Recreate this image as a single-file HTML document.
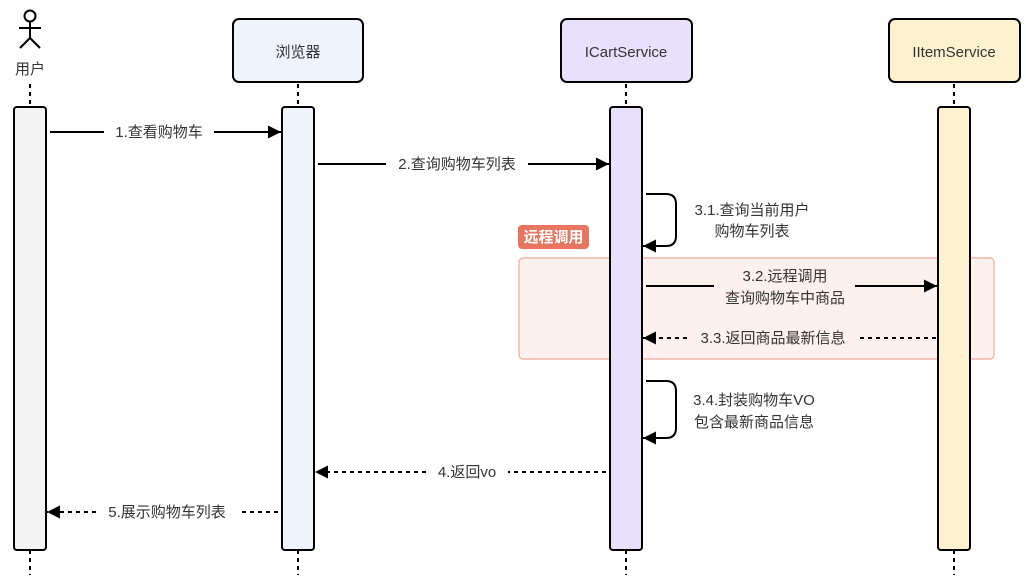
<!DOCTYPE html>
<html><head><meta charset="utf-8"><style>
html,body{margin:0;padding:0;background:#fff;width:1026px;height:580px;overflow:hidden}
text{font-family:"Liberation Sans","Noto Sans CJK SC",sans-serif;font-size:15px;fill:#333}
</style></head><body>
<svg width="1026" height="580" viewBox="0 0 1026 580" xmlns="http://www.w3.org/2000/svg">
<defs>
<marker id="a" viewBox="0 0 10 10" refX="10" refY="5" markerWidth="13" markerHeight="13" markerUnits="userSpaceOnUse" orient="auto"><path d="M0,0 L10,5 L0,10 z" fill="#000"/></marker>
</defs>
<rect x="519" y="258" width="475" height="101" rx="4" fill="#fdf1ee" stroke="#f2a898" stroke-width="1.2"/>
<rect x="518" y="225" width="71" height="24" rx="4" fill="#e8765e"/>
<text x="553.5" y="242" text-anchor="middle" style="fill:#fff;font-weight:bold;font-size:15px">远程调用</text>
<g stroke="#000" stroke-width="2" stroke-dasharray="4,4">
<line x1="30" y1="84" x2="30" y2="107"/><line x1="30" y1="550" x2="30" y2="575"/>
<line x1="298" y1="84" x2="298" y2="107"/><line x1="298" y1="550" x2="298" y2="575"/>
<line x1="626" y1="84" x2="626" y2="107"/><line x1="626" y1="550" x2="626" y2="575"/>
<line x1="954" y1="84" x2="954" y2="107"/><line x1="954" y1="550" x2="954" y2="575"/>
</g>
<g stroke="#000" stroke-width="2" fill="none">
<circle cx="30" cy="16" r="5.5"/>
<line x1="30" y1="22" x2="30" y2="38"/>
<line x1="19" y1="28" x2="41" y2="28"/>
<line x1="30" y1="38" x2="20" y2="48"/><line x1="30" y1="38" x2="40" y2="48"/>
</g>
<text x="30" y="74" text-anchor="middle">用户</text>
<rect x="233" y="19" width="130" height="63" rx="6" fill="#eef3fc" stroke="#000" stroke-width="2"/>
<text x="298" y="57" text-anchor="middle">浏览器</text>
<rect x="561" y="19" width="131" height="63" rx="6" fill="#e8e0fd" stroke="#000" stroke-width="2"/>
<text x="626" y="57" text-anchor="middle">ICartService</text>
<rect x="889" y="19" width="131" height="63" rx="6" fill="#fdf1cf" stroke="#000" stroke-width="2"/>
<text x="954" y="57" text-anchor="middle">IItemService</text>
<rect x="14" y="107" width="32" height="443" rx="3" fill="#f3f3f3" stroke="#000" stroke-width="2"/>
<rect x="282" y="107" width="32" height="443" rx="3" fill="#eef3fc" stroke="#000" stroke-width="2"/>
<rect x="610" y="107" width="32" height="443" rx="3" fill="#e8e0fd" stroke="#000" stroke-width="2"/>
<rect x="938" y="107" width="32" height="443" rx="3" fill="#fdf1cf" stroke="#000" stroke-width="2"/>
<g stroke="#000" stroke-width="2" fill="none">
<line x1="50" y1="132" x2="104" y2="132"/><line x1="214" y1="132" x2="281" y2="132" marker-end="url(#a)"/>
<line x1="318" y1="164" x2="386" y2="164"/><line x1="528" y1="164" x2="609" y2="164" marker-end="url(#a)"/>
<path d="M646,194 H666 Q676,194 676,204 V236 Q676,246 666,246 H643" marker-end="url(#a)"/>
<line x1="646" y1="286" x2="714" y2="286"/><line x1="855" y1="286" x2="937" y2="286" marker-end="url(#a)"/>
<path d="M646,381 H666 Q676,381 676,391 V428 Q676,438 666,438 H643" marker-end="url(#a)"/>
</g>
<g stroke="#000" stroke-width="2" fill="none" stroke-dasharray="4,4">
<line x1="936" y1="338" x2="858" y2="338"/><line x1="687" y1="338" x2="643" y2="338" marker-end="url(#a)"/>
<line x1="606" y1="472" x2="508" y2="472"/><line x1="426" y1="472" x2="315" y2="472" marker-end="url(#a)"/>
<line x1="278" y1="512" x2="238" y2="512"/><line x1="96" y1="512" x2="47" y2="512" marker-end="url(#a)"/>
</g>
<text x="159" y="137" text-anchor="middle">1.查看购物车</text>
<text x="457" y="169" text-anchor="middle">2.查询购物车列表</text>
<text x="752" y="215" text-anchor="middle">3.1.查询当前用户</text>
<text x="752" y="236" text-anchor="middle">购物车列表</text>
<text x="785" y="281" text-anchor="middle">3.2.远程调用</text>
<text x="785" y="303" text-anchor="middle">查询购物车中商品</text>
<text x="773" y="343" text-anchor="middle">3.3.返回商品最新信息</text>
<text x="754" y="405" text-anchor="middle">3.4.封装购物车VO</text>
<text x="754" y="427" text-anchor="middle">包含最新商品信息</text>
<text x="467" y="477" text-anchor="middle">4.返回vo</text>
<text x="167" y="517" text-anchor="middle">5.展示购物车列表</text>
</svg>
</body></html>
